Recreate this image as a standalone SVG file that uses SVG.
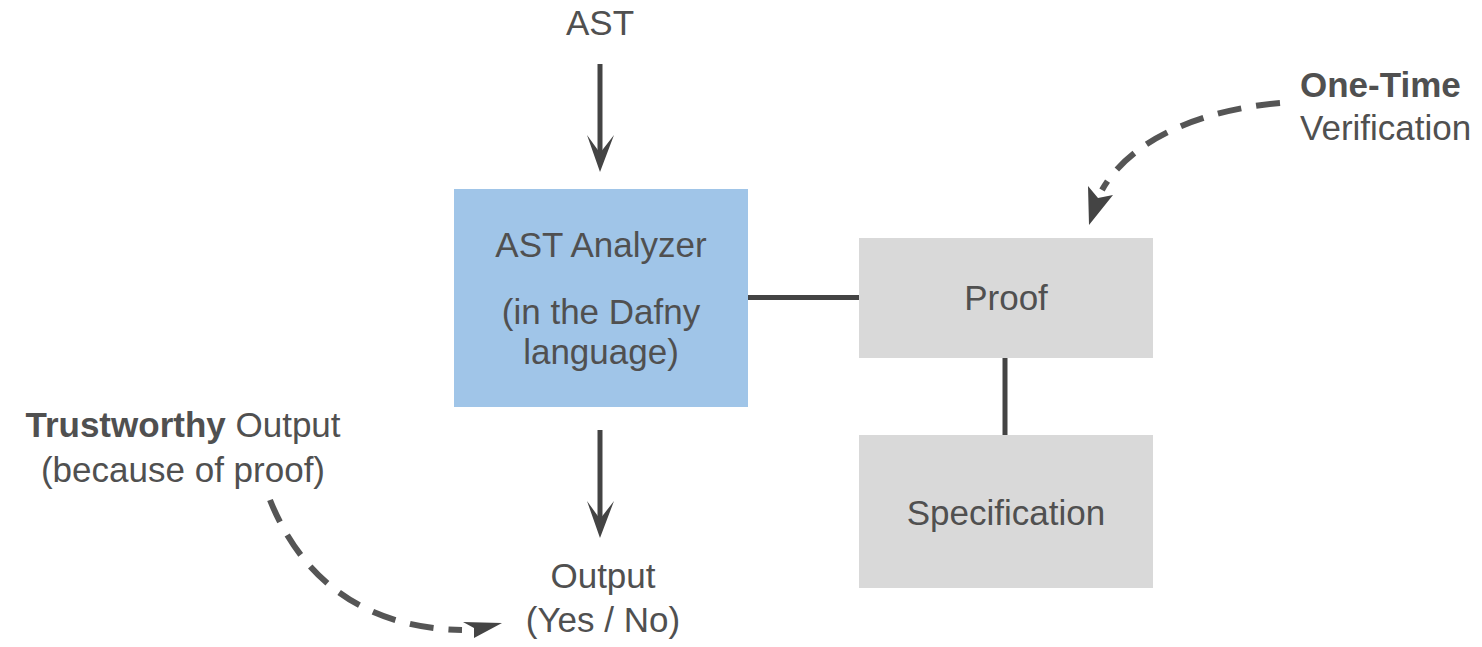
<svg xmlns="http://www.w3.org/2000/svg" width="1482" height="647" viewBox="0 0 1482 647">
<style>
text{font-family:"Liberation Sans",Arial,sans-serif;font-size:35px;fill:#505050}
.c{text-anchor:middle}
.b{font-weight:bold}
.ln{stroke:#444;stroke-width:5;fill:none}
.dash{stroke:#555;stroke-width:6;fill:none;stroke-dasharray:24 15}
.head{fill:#444}
</style>
<rect width="1482" height="647" fill="#fff"/>
<g id="connectors">
<line class="ln" x1="600" y1="64" x2="600" y2="158"/>
<path class="head" d="M600,172 L587,135 L600,153 L614,135 Z"/>
<line class="ln" x1="600" y1="430" x2="600" y2="524"/>
<path class="head" d="M600,538 L587,501 L600,519 L614,501 Z"/>
<line class="ln" x1="748" y1="297.5" x2="859" y2="297.5"/>
<line class="ln" x1="1005" y1="358" x2="1005" y2="435"/>
<path class="dash" d="M1280,103 C1200,110 1130,140 1102,190"/>
<path class="head" d="M1089,225 L1088,186 L1098,198 L1113,195 Z"/>
<path class="dash" d="M270,500 C300,575 360,628 462,630"/>
<path class="head" d="M502,623 L463,622 L474,628 L474,638 Z"/>
</g>
<g id="ast-label"><text class="c" x="600" y="35">AST</text></g>
<g id="analyzer">
<rect x="454" y="189" width="294" height="218" fill="#a0c5e8"/>
<text class="c" x="601" y="257">AST Analyzer</text>
<text class="c" x="601" y="324">(in the Dafny</text>
<text class="c" x="601" y="364">language)</text>
</g>
<g id="proof">
<rect x="859" y="238" width="294" height="120" fill="#d9d9d9"/>
<text class="c" x="1006" y="310">Proof</text>
</g>
<g id="specification">
<rect x="859" y="435" width="294" height="153" fill="#d9d9d9"/>
<text class="c" x="1006" y="525">Specification</text>
</g>
<g id="output">
<text class="c" x="603" y="588">Output</text>
<text class="c" x="603" y="632">(Yes / No)</text>
</g>
<g id="trustworthy">
<text class="c" x="183" y="437"><tspan class="b">Trustworthy</tspan> Output</text>
<text class="c" x="183" y="482">(because of proof)</text>
</g>
<g id="onetime">
<text x="1300" y="97" class="b">One-Time</text>
<text x="1300" y="140">Verification</text>
</g>
</svg>
